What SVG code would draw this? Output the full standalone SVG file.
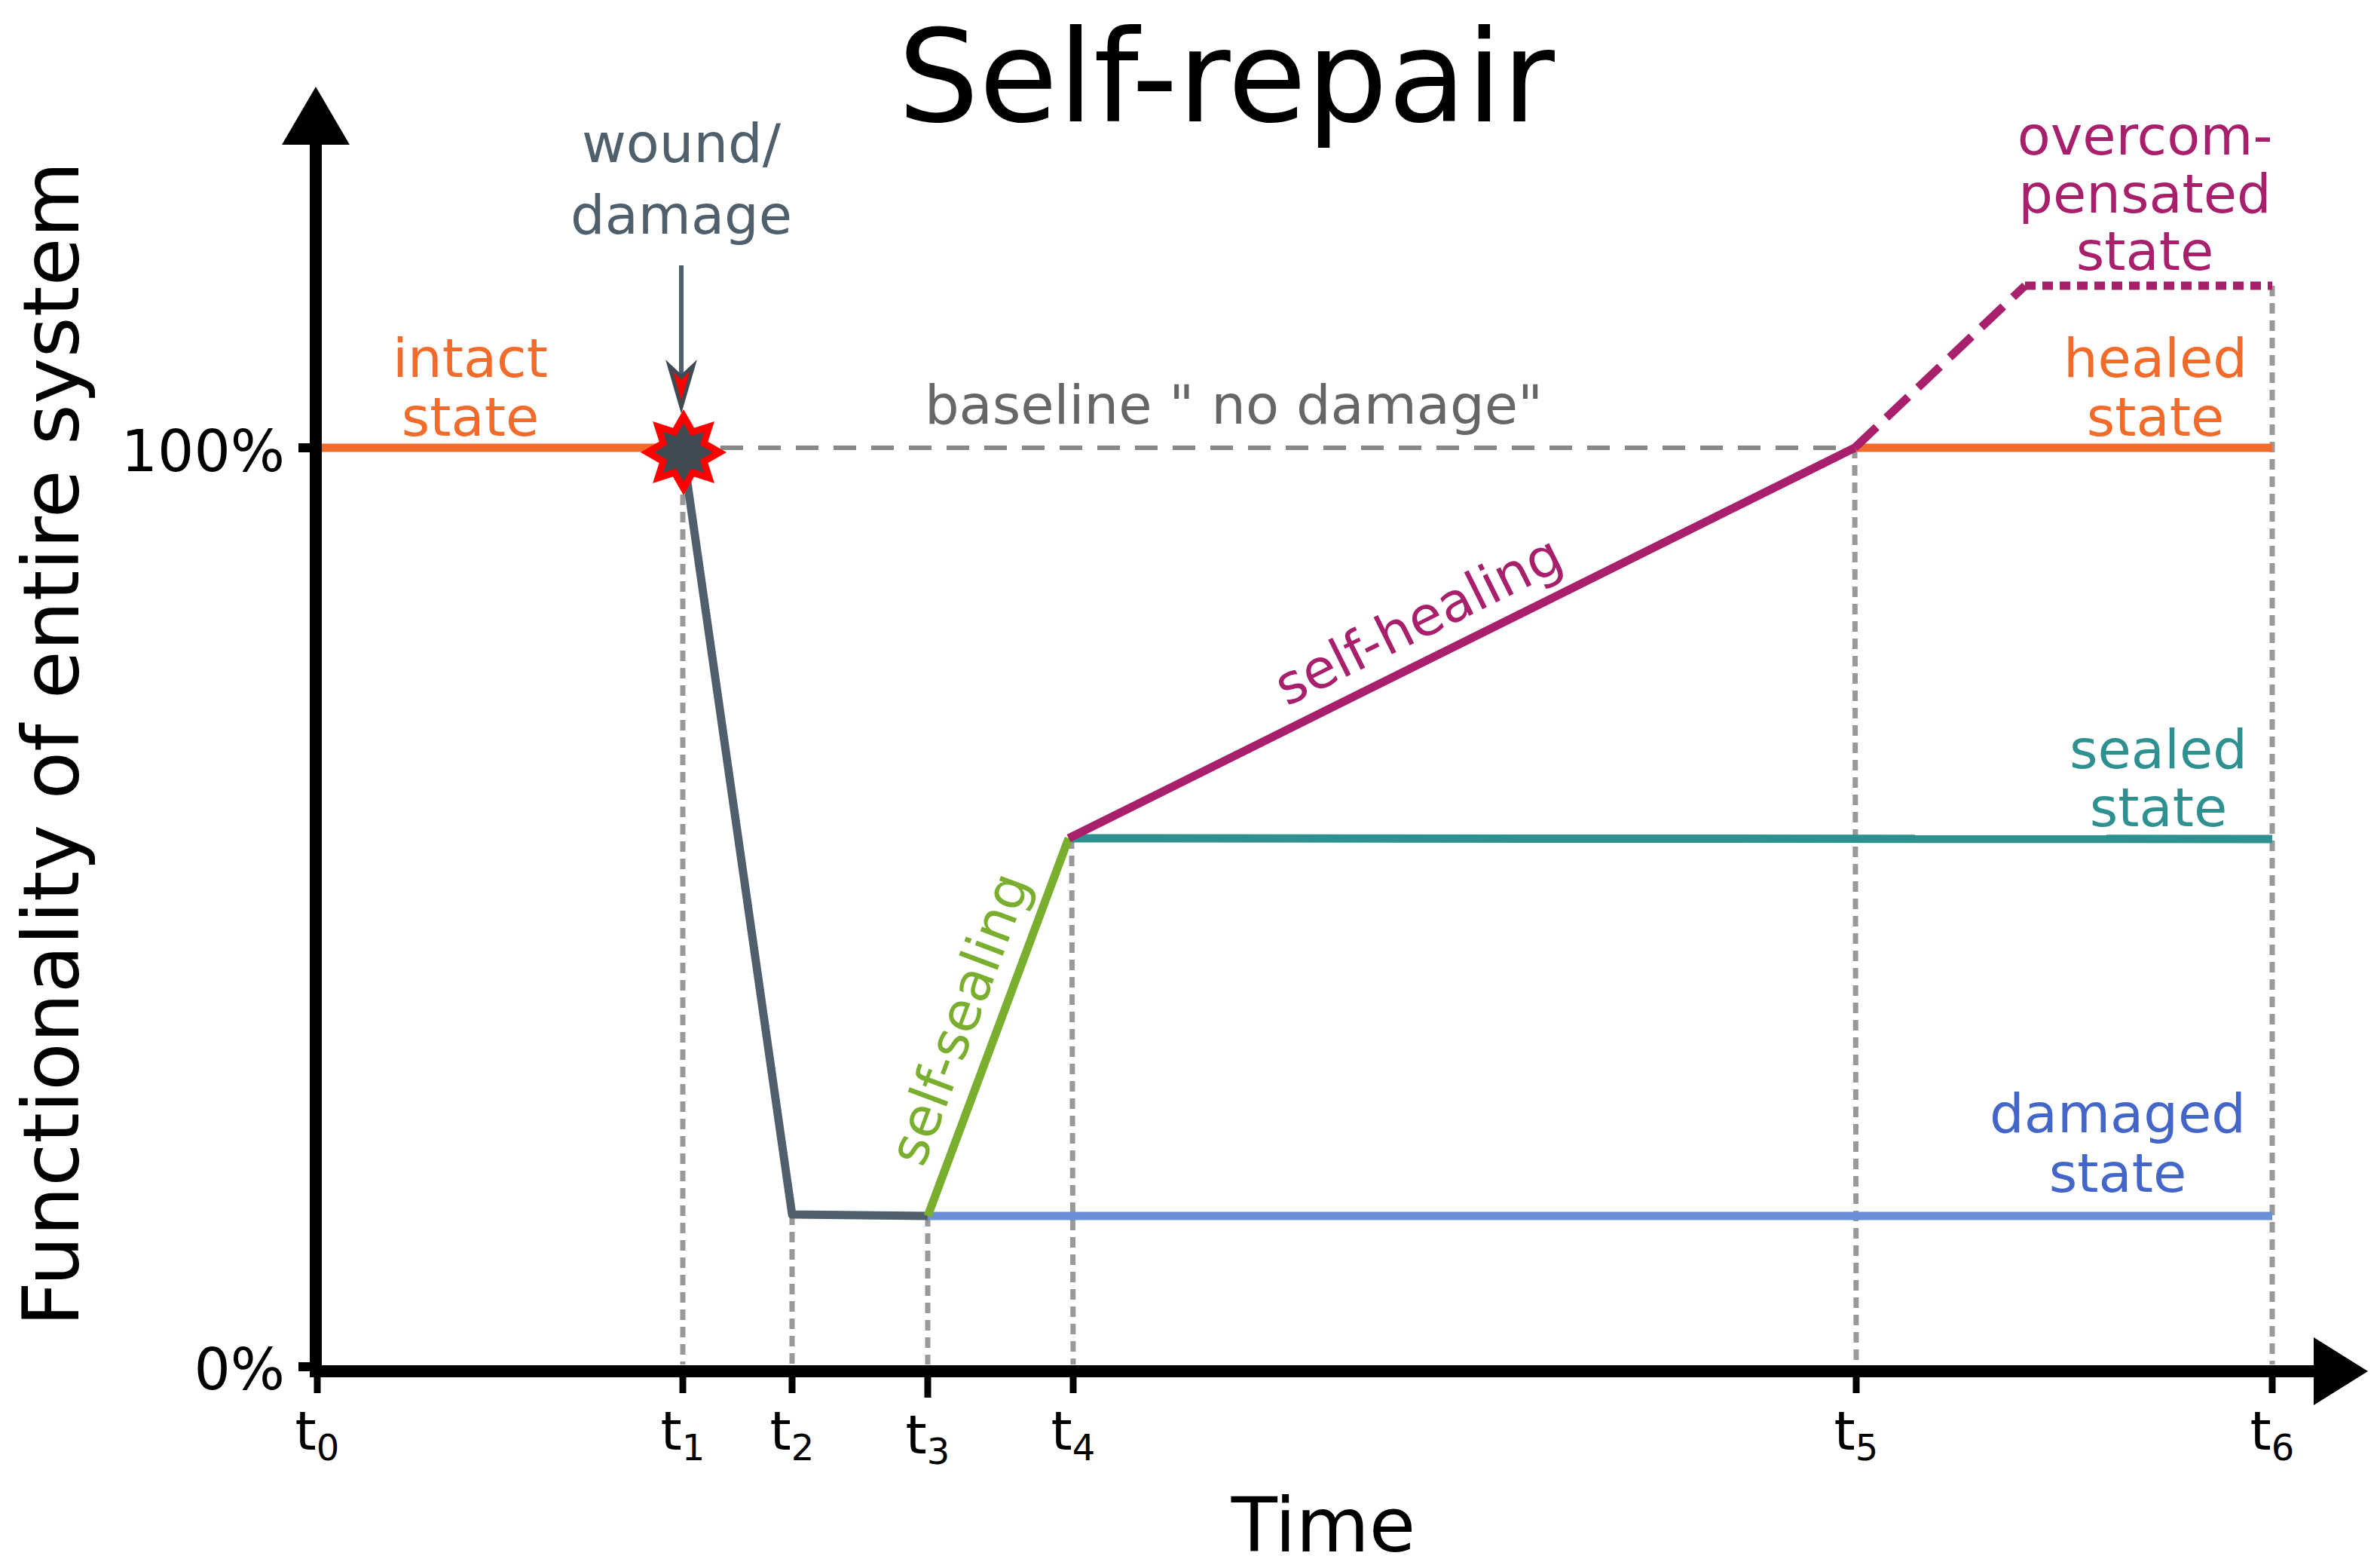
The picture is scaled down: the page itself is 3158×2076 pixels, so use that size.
<svg xmlns="http://www.w3.org/2000/svg" width="3158" height="2076" viewBox="0 0 3158 2076">
<style>
text{font-family:"DejaVu Sans",Verdana,sans-serif}
.lbl{font-size:72px;text-anchor:middle}
.tk{font-size:72px;text-anchor:middle;fill:#000}
.vg{stroke:#999;stroke-width:7;stroke-dasharray:14 9;fill:none}
.c{stroke-width:11;fill:none;stroke-linejoin:round}
</style>
<rect width="3158" height="2076" fill="#fff"/>
<text x="1627" y="161" font-size="170" text-anchor="middle">Self-repair</text>
<g id="connectors">
<line class="vg" x1="906" y1="610" x2="906" y2="1810"/>
<line class="vg" x1="1051" y1="1611" x2="1051" y2="1810"/>
<line class="vg" x1="1231" y1="1613" x2="1231" y2="1810"/>
<line class="vg" x1="1422" y1="1112" x2="1424" y2="1810"/>
<line class="vg" x1="2461" y1="594" x2="2463" y2="1810"/>
<line class="vg" x1="3015" y1="379" x2="3015" y2="1810"/>
<line x1="906" y1="594" x2="2461" y2="594" stroke="#888" stroke-width="6" stroke-dasharray="30 20"/>
<line class="c" stroke="#f26b2a" x1="419" y1="594" x2="906" y2="594"/>
<line class="c" stroke="#f26b2a" x1="2461" y1="594" x2="3015" y2="594"/>
<polyline class="c" stroke="#4f5f6b" points="906,598 1051,1611 1231,1613"/>
<line class="c" stroke="#6b8fd6" x1="1231" y1="1613" x2="3015" y2="1613"/>
<line class="c" stroke="#2e9090" x1="1418" y1="1112" x2="3015" y2="1113"/>
<line class="c" stroke="#7aae2e" x1="1231" y1="1613" x2="1418" y2="1112"/>
<line class="c" stroke="#a81f6b" x1="1418" y1="1112" x2="2461" y2="594"/>
<line class="c" stroke="#a81f6b" x1="2461" y1="594" x2="2687" y2="379" stroke-dasharray="40 18"/>
<line class="c" stroke="#a81f6b" x1="2687" y1="379" x2="3015" y2="379" stroke-dasharray="14 9"/>
<line x1="904" y1="352" x2="904" y2="510" stroke="#4f5f6b" stroke-width="6"/>
<polygon points="888,485 904,500 920,485 904,540" fill="#ff0000" stroke="#3f4a53" stroke-width="5" stroke-linejoin="miter"/>
</g>
<g id="star">
<polygon transform="translate(907,600)" fill="#3f4a53" stroke="#ff0000" stroke-width="9" stroke-linejoin="miter" points="0,-48 12,-27 34,-34 27,-12 48,0 27,12 34,34 12,27 0,48 -12,27 -34,34 -27,12 -48,0 -27,-12 -34,-34 -12,-27"/>
</g>
<g id="axes" stroke="#000" fill="none">
<line x1="419" y1="1827" x2="419" y2="185" stroke-width="16"/>
<polygon points="374,192 419,115 464,192" fill="#000" stroke="none"/>
<line x1="411" y1="1819" x2="3075" y2="1819" stroke-width="16"/>
<polygon points="3070,1774 3142,1819 3070,1864" fill="#000" stroke="none"/>
<line x1="396" y1="594" x2="419" y2="594" stroke-width="12"/>
<line x1="396" y1="1813" x2="419" y2="1813" stroke-width="12"/>
<g stroke-width="9">
<line x1="421" y1="1819" x2="421" y2="1848"/>
<line x1="906" y1="1819" x2="906" y2="1848"/>
<line x1="1051" y1="1819" x2="1051" y2="1848"/>
<line x1="1231" y1="1819" x2="1231" y2="1854"/>
<line x1="1424" y1="1819" x2="1424" y2="1848"/>
<line x1="2463" y1="1819" x2="2463" y2="1848"/>
<line x1="3015" y1="1819" x2="3015" y2="1848"/>
</g>
</g>
<g id="labels">
<text x="378" y="625" font-size="76" text-anchor="end">100%</text>
<text x="378" y="1843" font-size="76" text-anchor="end">0%</text>
<text transform="translate(104,987) rotate(-90)" font-size="104" text-anchor="middle">Functionality of entire system</text>
<text x="1756" y="2058" font-size="100" text-anchor="middle">Time</text>
<text class="tk" x="421" y="1923">t<tspan font-size="48" dy="14">0</tspan></text>
<text class="tk" x="906" y="1923">t<tspan font-size="48" dy="14">1</tspan></text>
<text class="tk" x="1051" y="1923">t<tspan font-size="48" dy="14">2</tspan></text>
<text class="tk" x="1231" y="1928">t<tspan font-size="48" dy="14">3</tspan></text>
<text class="tk" x="1424" y="1923">t<tspan font-size="48" dy="14">4</tspan></text>
<text class="tk" x="2463" y="1923">t<tspan font-size="48" dy="14">5</tspan></text>
<text class="tk" x="3015" y="1923">t<tspan font-size="48" dy="14">6</tspan></text>
<text class="lbl" fill="#f26b2a" x="624" y="500">intact<tspan x="624" y="578">state</tspan></text>
<text class="lbl" fill="#4f5f6b" x="904" y="215">wound/<tspan x="904" y="310">damage</tspan></text>
<text class="lbl" fill="#666" x="1637" y="562">baseline " no damage"</text>
<text class="lbl" fill="#a81f6b" x="2846" y="205">overcom-<tspan x="2846" y="282">pensated</tspan><tspan x="2846" y="358">state</tspan></text>
<text class="lbl" fill="#f26b2a" x="2860" y="500">healed<tspan x="2860" y="578">state</tspan></text>
<text class="lbl" fill="#2e9090" x="2864" y="1019">sealed<tspan x="2864" y="1096">state</tspan></text>
<text class="lbl" fill="#4466c8" x="2810" y="1502">damaged<tspan x="2810" y="1581">state</tspan></text>
<text class="lbl" fill="#a81f6b" transform="translate(1893,845) rotate(-26.4)">self-healing</text>
<text class="lbl" fill="#7aae2e" transform="translate(1296,1360) rotate(-69.5)">self-sealing</text>
</g>
</svg>
